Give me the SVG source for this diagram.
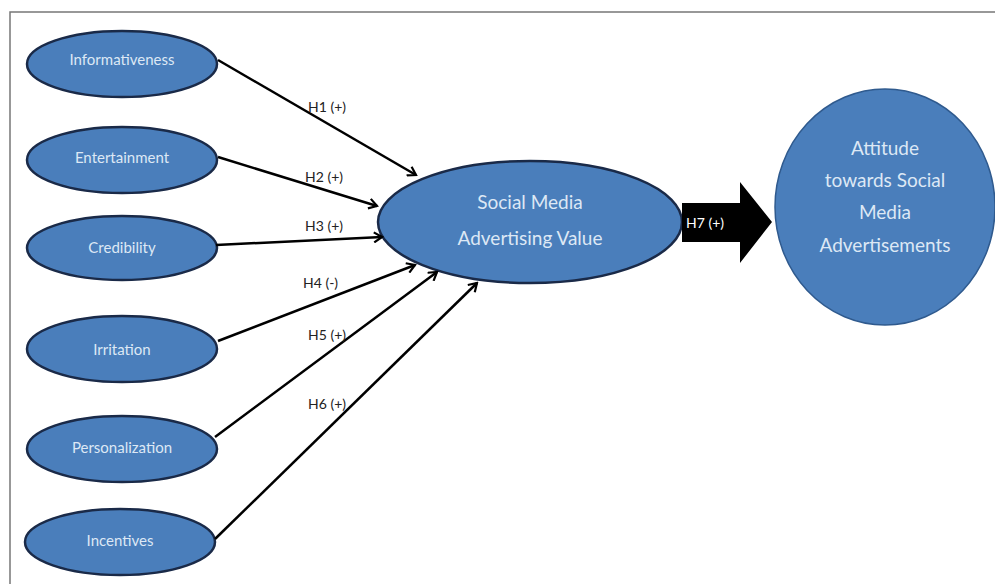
<svg xmlns="http://www.w3.org/2000/svg" width="995" height="584" viewBox="0 0 995 584">
<defs>
<style>
.node{fill:#4a7ebb;stroke:#1a2a48;stroke-width:2.5}
.big{fill:#4a7ebb;stroke:#2f5a8e;stroke-width:1.5}
.lbl{font-family:Lato,"Open Sans",sans-serif;font-size:15px;fill:#dde8f5;text-anchor:middle}
.lblc{font-family:Lato,"Open Sans",sans-serif;font-size:19px;fill:#dde8f5;text-anchor:middle}
.hl{font-family:Lato,"Open Sans",sans-serif;font-size:14px;fill:#222}
.conn line{stroke:#000;stroke-width:2.5;marker-end:url(#ah)}
</style>
<marker id="ah" viewBox="0 0 12 12" refX="10" refY="6" markerWidth="12" markerHeight="12" markerUnits="userSpaceOnUse" orient="auto">
<path d="M2,1 L10,6 L2,11" fill="none" stroke="#000" stroke-width="2.2"/>
</marker>
</defs>
<rect width="995" height="584" fill="#fff"/>
<path d="M10,584 V12 H995" fill="none" stroke="#777" stroke-width="1.5"/>
<g id="informativeness"><ellipse class="node" cx="122" cy="64" rx="95" ry="33"/><text class="lbl" x="122" y="65">Informativeness</text></g>
<g id="entertainment"><ellipse class="node" cx="122" cy="160" rx="95" ry="33"/><text class="lbl" x="122" y="163">Entertainment</text></g>
<g id="credibility"><ellipse class="node" cx="122" cy="248" rx="95" ry="32"/><text class="lbl" x="122" y="253">Credibility</text></g>
<g id="irritation"><ellipse class="node" cx="122" cy="349" rx="95" ry="33"/><text class="lbl" x="122" y="355">Irritation</text></g>
<g id="personalization"><ellipse class="node" cx="122" cy="449" rx="95" ry="33"/><text class="lbl" x="122" y="453">Personalization</text></g>
<g id="incentives"><ellipse class="node" cx="120" cy="542" rx="95" ry="33"/><text class="lbl" x="120" y="546">Incentives</text></g>
<g id="smav"><ellipse class="node" cx="530" cy="222" rx="152" ry="61"/><text class="lblc" x="530" y="209">Social Media</text><text class="lblc" x="530" y="245">Advertising Value</text></g>
<g id="attitude"><ellipse class="big" cx="885" cy="207" rx="110" ry="118"/>
<text class="lblc" x="885" y="155">Attitude</text><text class="lblc" x="885" y="187">towards Social</text><text class="lblc" x="885" y="219">Media</text><text class="lblc" x="885" y="252">Advertisements</text></g>
<g id="connectors" class="conn">
<line x1="218" y1="60" x2="416" y2="175"/>
<line x1="218" y1="157" x2="377" y2="206"/>
<line x1="216" y1="245" x2="382" y2="237"/>
<line x1="218" y1="341" x2="415" y2="265"/>
<line x1="215" y1="437" x2="437" y2="272"/>
<line x1="215" y1="539" x2="477" y2="283"/>
<path d="M682,203 H740 V182 L772,222 L740,263 V242 H682 Z" fill="#000"/>
</g>
<g id="labels">
<text class="hl" x="308" y="112">H1 (+)</text>
<text class="hl" x="305" y="182">H2 (+)</text>
<text class="hl" x="305" y="231">H3 (+)</text>
<text class="hl" x="303" y="288">H4 (-)</text>
<text class="hl" x="308" y="340">H5 (+)</text>
<text class="hl" x="308" y="409">H6 (+)</text>
<text x="686" y="228" style="font-family:Lato,'Open Sans',sans-serif;font-size:14px;fill:#fff">H7 (+)</text>
</g>
</svg>
